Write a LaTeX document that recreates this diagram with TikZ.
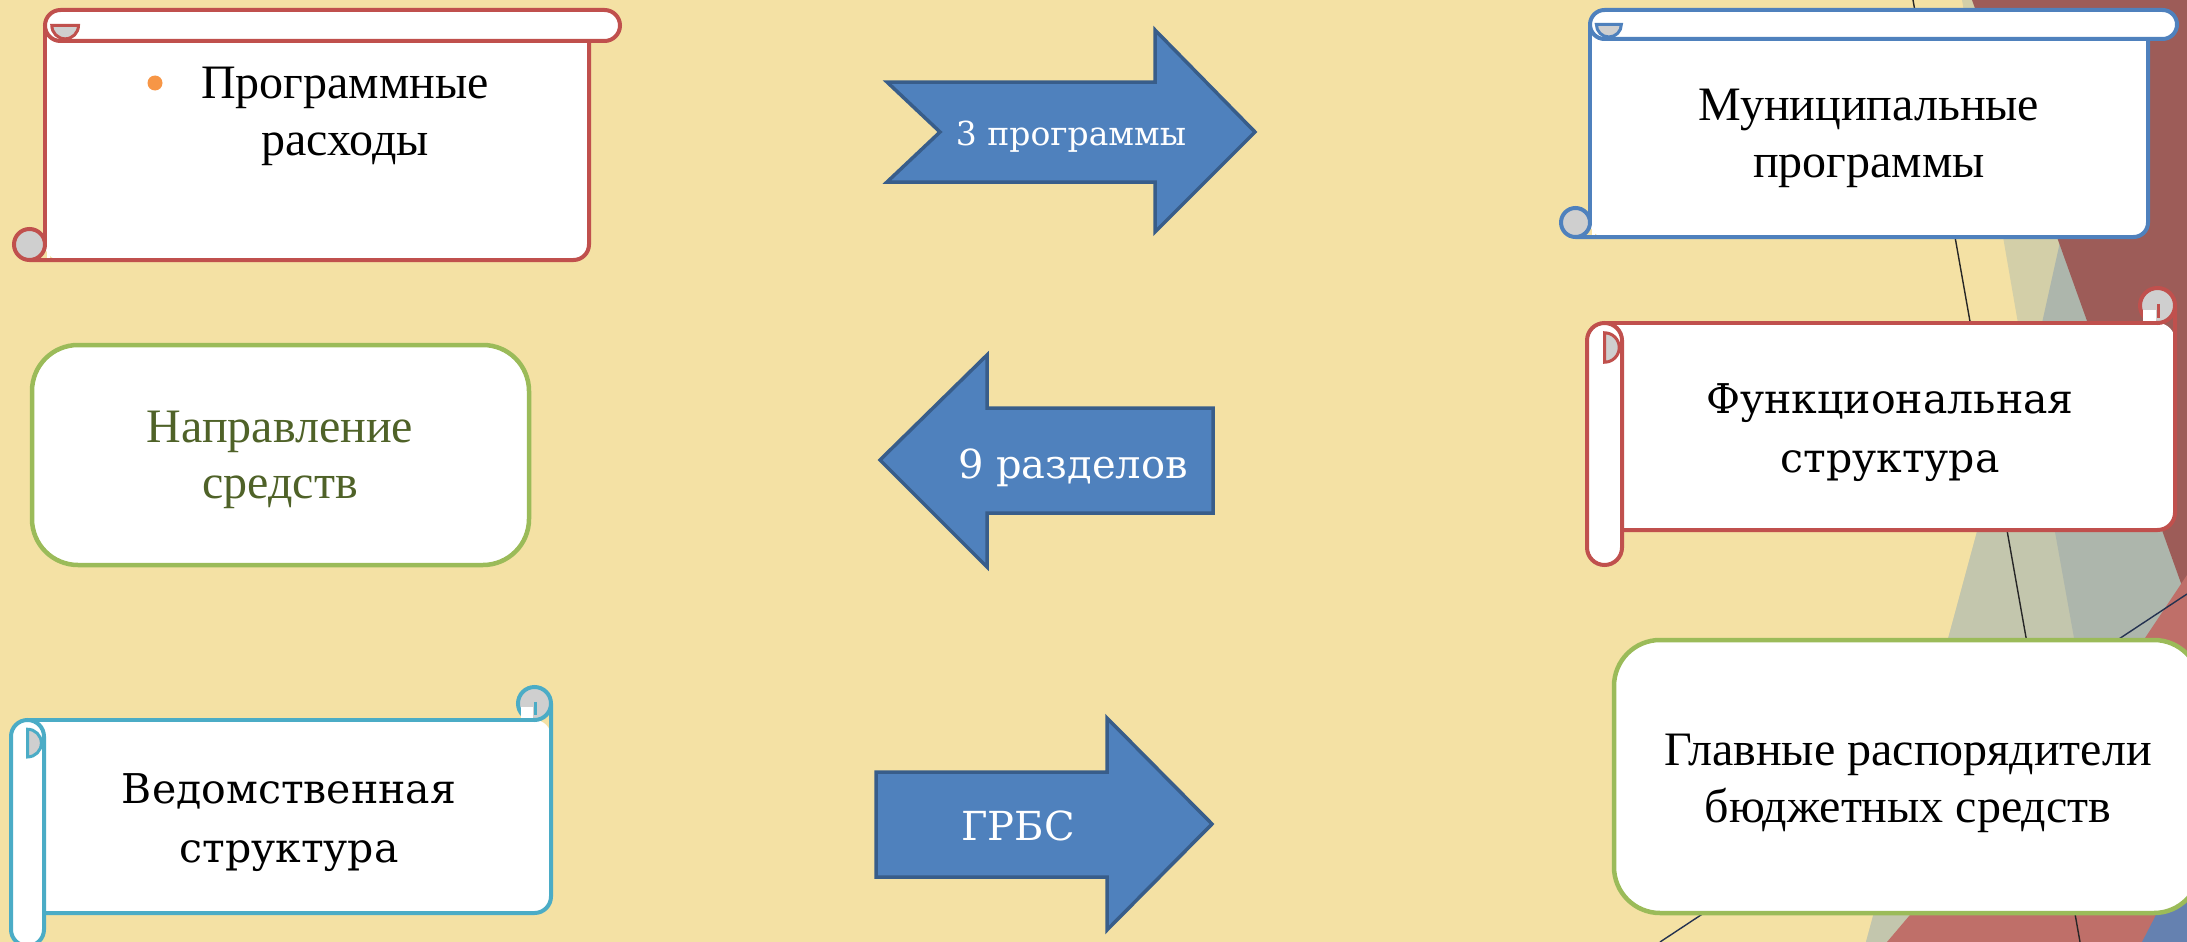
\documentclass[tikz,border=0pt]{standalone}
\usepackage{fontspec}
\setmainfont{Liberation Serif}
\newfontfamily\cfont{DejaVu Serif}
\definecolor{bgY}{HTML}{F4E1A4}
\definecolor{khakiA}{HTML}{D3CFA8}
\definecolor{khakiB}{HTML}{C3C6AD}
\definecolor{greygreen}{HTML}{ADB6AC}
\definecolor{darkred}{HTML}{9D5C58}
\definecolor{lightred}{HTML}{BF6F69}
\definecolor{cornerblue}{HTML}{6581B0}
\definecolor{darkline}{HTML}{243250}
\definecolor{redline}{HTML}{C0504D}
\definecolor{blueline}{HTML}{4F81BD}
\definecolor{tealline}{HTML}{4BACC6}
\definecolor{greenline}{HTML}{9BBB59}
\definecolor{curlgrey}{HTML}{CFCFCF}
\definecolor{arrowfill}{HTML}{4F81BD}
\definecolor{arrowline}{HTML}{385D8A}
\definecolor{olive}{HTML}{4F6228}
\definecolor{bulletc}{HTML}{F79646}
\tikzset{
  sline/.style={line width=4pt},
  txt/.style={anchor=base, inner sep=0pt, font=\fontsize{48}{57}\selectfont},
  ctxt/.style={anchor=base, inner sep=0pt, font=\cfont\fontsize{41}{50}\selectfont},
  atxt/.style={anchor=base, inner sep=0pt, text=white},
  arrowshape/.style={fill=arrowfill, draw=arrowline, line width=3.5pt, line join=miter},
  greenbox/.style={draw=greenline, fill=white, line width=4.5pt, rounded corners=46pt, inner sep=0pt}
}
% scroll with a roll across the top: l t r b c colour
\newcommand\scrollTopRoll[6]{%
  \pgfmathsetmacro\qL{#1}\pgfmathsetmacro\qT{#2}\pgfmathsetmacro\qR{#3}%
  \pgfmathsetmacro\qB{#4}\pgfmathsetmacro\qC{#5}\pgfmathsetmacro\qH{#5/2}%
  \fill[white, rounded corners=\qH pt] (\qL+\qC,\qT+\qH) rectangle (\qR-\qC,\qB);
  \draw[#6, sline, rounded corners=\qH pt] (\qL+\qH,\qB) -- (\qR-\qC,\qB) -- (\qR-\qC,\qT+\qH);
  \draw[#6, sline] (\qL+\qC,\qT+\qH) -- (\qL+\qC,\qB-\qH);
  \filldraw[draw=#6, fill=curlgrey, sline] (\qL+\qH,\qB-\qH) circle[radius=\qH];
  \fill[white] (\qL+\qC+2,\qB-\qH-3) rectangle (\qL+\qC+5,\qB-2);
  \filldraw[draw=#6, fill=white, sline, rounded corners=\qH pt] (\qL+\qC,\qT) rectangle (\qR,\qT+\qC);
  \filldraw[draw=#6, fill=curlgrey, line width=3pt] (\qL+1.22*\qC,\qT+0.5*\qC) arc[start angle=180, end angle=0, radius=0.43*\qC] -- cycle;
}
% scroll with a roll down the left side: l t r b c colour
\newcommand\scrollLeftRoll[6]{%
  \pgfmathsetmacro\qL{#1}\pgfmathsetmacro\qT{#2}\pgfmathsetmacro\qR{#3}%
  \pgfmathsetmacro\qB{#4}\pgfmathsetmacro\qC{#5}\pgfmathsetmacro\qH{#5/2}%
  \fill[white, rounded corners=\qH pt] (\qL+\qH,\qT+\qC) rectangle (\qR,\qB-\qC);
  \draw[#6, sline, rounded corners=\qH pt] (\qL+\qH,\qB-\qC) -- (\qR,\qB-\qC) -- (\qR,\qT+\qH);
  \draw[#6, sline] (\qL+\qH,\qT+\qC) -- (\qR-\qH,\qT+\qC);
  \filldraw[draw=#6, fill=curlgrey, sline] (\qR-\qH,\qT+\qH) circle[radius=\qH];
  \fill[white] (\qR-\qC+3,\qT+0.62*\qC) rectangle (\qR-\qH-2,\qT+\qC-2);
  \draw[#6, line width=3pt] (\qR-\qH+1,\qT+0.45*\qC) -- (\qR-\qH+1,\qT+0.85*\qC);
  \filldraw[draw=#6, fill=white, sline, rounded corners=\qH pt] (\qL,\qT+\qC) rectangle (\qL+\qC,\qB);
  \filldraw[draw=#6, fill=curlgrey, line width=3pt] (\qL+0.5*\qC,\qT+1.28*\qC) arc[start angle=-90, end angle=90, radius=0.42*\qC] -- cycle;
}
\begin{document}
\begin{tikzpicture}[x=1pt,y=-1pt]
\useasboundingbox (0,0) rectangle (2187,942);
\clip (0,0) rectangle (2187,942);
\fill[bgY] (0,0) rectangle (2187,942);
% background facets on the right
\fill[khakiA] (1962,0) -- (2187,0) -- (2187,942) -- (1866,942) -- (2024,358) -- cycle;
\fill[khakiB] (2012.6,400) -- (2187,400) -- (2187,942) -- (1866,942) -- cycle;
\fill[greygreen] (2060,242) -- (2036,350) -- (2055,532) -- (2074,638) -- (2110,942) -- (2187,942) -- (2187,600) -- cycle;
\fill[darkred] (1972,0) -- (2187,0) -- (2187,600) -- cycle;
\fill[lightred] (2187,575) -- (2145,638) -- (1887,942) -- (2187,942) -- cycle;
\fill[cornerblue] (2142,942) -- (2187,855) -- (2187,942) -- cycle;
\coordinate (la1) at (1913,0);
\coordinate (la2) at (2080,942);
\coordinate (lb1) at (2187,594);
\coordinate (lb2) at (1660,942);
\draw[line width=1.4pt, black!85] (la1) -- (la2);
\draw[line width=1.4pt, darkline] (lb1) -- (lb2);

% left column
\scrollTopRoll{14}{10}{620}{260}{31}{redline}
\fill[bulletc] (155,83) circle[radius=7.5];
\node[txt] (prog1) at (345,98) {Программные};
\node[txt] (prog2) at (345,155) {расходы};

\node[greenbox, minimum width=497pt, minimum height=220pt] (napr) at (280.5,455) {};
\node[txt, text=olive] (napr1) at (280,442) {Направление};
\node[txt, text=olive] (napr2) at (280,498) {средств};

\scrollLeftRoll{11}{687}{551}{946}{33}{tealline}
\node[ctxt] (ved1) at (289,803) {Ведомственная};
\node[ctxt] (ved2) at (289,862) {структура};

% arrows
\filldraw[arrowshape] (887,82) -- (1155,82) -- (1155,30) -- (1255,132) -- (1155,232) -- (1155,182) -- (887,182) -- (940,132) -- cycle;
\node[atxt, font=\cfont\fontsize{33}{40}\selectfont] (arr1) at (1071,145) {3 программы};

\filldraw[arrowshape] (880,460) -- (987,355) -- (987,408) -- (1213,408) -- (1213,513) -- (987,513) -- (987,567) -- cycle;
\node[atxt, font=\cfont\fontsize{40}{48}\selectfont] (arr2) at (1073,478) {9 разделов};

\filldraw[arrowshape] (876,772) -- (1107,772) -- (1107,718) -- (1212,824) -- (1107,930) -- (1107,877) -- (876,877) -- cycle;
\node[atxt, font=\cfont\fontsize{40}{48}\selectfont] (arr3) at (1018,840) {ГРБС};

% right column
\scrollTopRoll{1561}{10}{2177}{237}{29}{blueline}
\node[txt] (mun1) at (1869,120) {Муниципальные};
\node[txt] (mun2) at (1869,177) {программы};

\scrollLeftRoll{1587}{288}{2175}{565}{35}{redline}
\node[ctxt] (fun1) at (1890,413) {Функциональная};
\node[ctxt] (fun2) at (1890,472) {структура};

\node[greenbox, minimum width=586pt, minimum height=273pt] (glav) at (1907,776.5) {};
\node[txt] (glav1) at (1908,765) {Главные распорядители};
\node[txt] (glav2) at (1908,822) {бюджетных средств};
\end{tikzpicture}
\end{document}
